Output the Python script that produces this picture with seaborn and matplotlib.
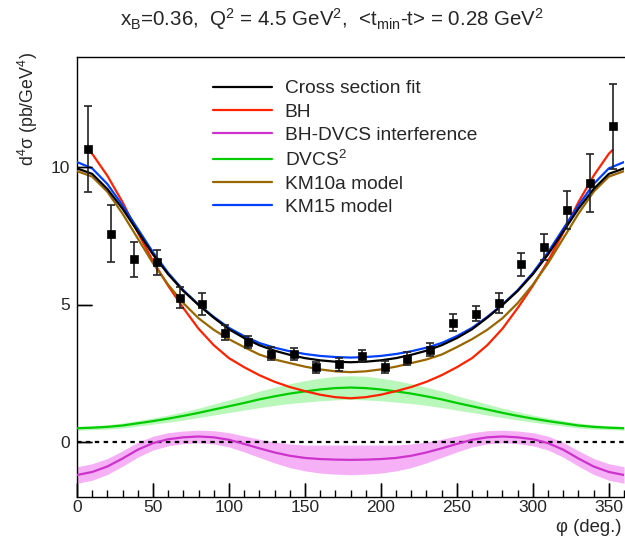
import numpy as np
import pandas as pd
import matplotlib
matplotlib.use("Agg")
import matplotlib.pyplot as plt
from matplotlib.ticker import MultipleLocator
import seaborn as sns

# ---------------- data ----------------
phi_pts = [7.5, 22.5, 37.5, 52.5, 67.5, 82.5, 97.5, 112.5, 127.5, 142.5, 157.5, 172.5,
           187.5, 202.5, 217.5, 232.5, 247.5, 262.5, 277.5, 292.5, 307.5, 322.5, 337.5, 352.5]
xs_pts = [10.65, 7.58, 6.64, 6.53, 5.25, 5.02, 3.98, 3.64, 3.21, 3.21, 2.71, 2.82,
          3.14, 2.74, 3.03, 3.36, 4.33, 4.66, 5.05, 6.46, 7.10, 8.44, 9.42, 11.48]
err_pts = [1.55, 1.05, 0.65, 0.47, 0.38, 0.40, 0.27, 0.22, 0.23, 0.22, 0.20, 0.22,
           0.22, 0.22, 0.23, 0.25, 0.31, 0.27, 0.36, 0.41, 0.47, 0.70, 1.07, 1.55]

phi_curve = list(range(0, 361, 10))
fit_curve = [9.95, 9.75, 9.20, 8.48, 7.65, 6.82, 6.10, 5.49, 4.98, 4.52, 4.10, 3.78, 3.52,
             3.32, 3.17, 3.05, 2.97, 2.92, 2.90,
             2.92, 2.97, 3.05, 3.17, 3.32, 3.52, 3.78, 4.10, 4.52, 4.98, 5.49, 6.10, 6.82,
             7.65, 8.48, 9.20, 9.75, 9.95]
km15_curve = [10.18, 9.95, 9.38, 8.60, 7.75, 6.90, 6.15, 5.52, 5.00, 4.55, 4.15, 3.85, 3.60,
              3.43, 3.30, 3.20, 3.13, 3.09, 3.07,
              3.09, 3.13, 3.20, 3.30, 3.43, 3.60, 3.85, 4.15, 4.55, 5.00, 5.52, 6.15, 6.90,
              7.75, 8.60, 9.38, 9.95, 10.18]
km10a_curve = [9.85, 9.65, 9.10, 8.30, 7.40, 6.50, 5.72, 5.05, 4.50, 4.08, 3.74, 3.45, 3.18,
               3.00, 2.87, 2.74, 2.64, 2.57, 2.54,
               2.57, 2.64, 2.74, 2.87, 3.00, 3.18, 3.45, 3.74, 4.08, 4.50, 5.05, 5.72, 6.50,
               7.40, 8.30, 9.10, 9.65, 9.85]
phi_bh = [7.5] + list(range(10, 351, 10)) + [352.5]
bh_curve = [10.62, 10.48, 9.68, 8.72, 7.62, 6.58, 5.68, 4.87, 4.12, 3.52, 3.05, 2.72, 2.43,
            2.19, 2.00, 1.85, 1.72, 1.63, 1.59,
            1.63, 1.72, 1.85, 2.00, 2.19, 2.43, 2.72, 3.05, 3.52, 4.12, 4.87, 5.68, 6.58,
            7.62, 8.72, 9.68, 10.48, 10.62]
int_curve = [-1.20, -1.09, -0.89, -0.60, -0.28, -0.04, 0.10, 0.17, 0.20, 0.17, 0.08, -0.07,
             -0.23, -0.38, -0.50, -0.58, -0.62, -0.64, -0.65,
             -0.64, -0.62, -0.58, -0.50, -0.38, -0.23, -0.07, 0.08, 0.17, 0.20, 0.17, 0.10,
             -0.04, -0.28, -0.60, -0.89, -1.09, -1.20]
int_err = [0.30, 0.30, 0.29, 0.28, 0.27, 0.25, 0.24, 0.23, 0.23, 0.24, 0.26, 0.29, 0.33,
           0.38, 0.43, 0.47, 0.51, 0.53, 0.54,
           0.53, 0.51, 0.47, 0.43, 0.38, 0.33, 0.29, 0.26, 0.24, 0.23, 0.23, 0.24, 0.25,
           0.27, 0.28, 0.29, 0.30, 0.30]
dvcs_curve = [0.50, 0.52, 0.55, 0.60, 0.68, 0.76, 0.85, 0.95, 1.06, 1.18, 1.30, 1.42, 1.55,
              1.66, 1.76, 1.84, 1.91, 1.96, 1.98,
              1.96, 1.91, 1.84, 1.76, 1.66, 1.55, 1.42, 1.30, 1.18, 1.06, 0.95, 0.85, 0.76,
              0.68, 0.60, 0.55, 0.52, 0.50]
dvcs_err = [0.07, 0.07, 0.08, 0.09, 0.10, 0.11, 0.13, 0.15, 0.17, 0.20, 0.23, 0.26, 0.30,
            0.33, 0.36, 0.39, 0.41, 0.43, 0.43,
            0.43, 0.41, 0.39, 0.36, 0.33, 0.30, 0.26, 0.23, 0.20, 0.17, 0.15, 0.13, 0.11,
            0.10, 0.09, 0.08, 0.07, 0.07]

labels = ["Cross section fit", "BH", "BH-DVCS interference", r"DVCS$^2$",
          "KM10a model", "KM15 model"]
colors = ["#000000", "#ff2200", "#cc33cc", "#00cc00", "#996600", "#0040ff"]

x_major = [0, 50, 100, 150, 200, 250, 300, 350]
x_minor = [v for v in range(0, 361, 10) if v % 50 != 0]
y_major = [0, 5, 10]

# ---------------- style ----------------
sns.set_style("ticks", {"xtick.direction": "in", "ytick.direction": "in"})
plt.rcParams["font.family"] = ["Liberation Sans", "DejaVu Sans"]
plt.rcParams["mathtext.default"] = "regular"

fig = plt.figure(figsize=(6.25, 5.36), dpi=100)
ax = fig.add_axes([77 / 625, 39 / 536, 547 / 625, 440 / 536])

df_c = pd.DataFrame({"phi": phi_curve, "fit": fit_curve, "km15": km15_curve,
                     "km10a": km10a_curve, "int": int_curve, "dvcs": dvcs_curve})
df_c["int_lo"] = df_c["int"] - np.array(int_err)
df_c["int_hi"] = df_c["int"] + np.array(int_err)
df_c["dvcs_lo"] = df_c["dvcs"] - np.array(dvcs_err)
df_c["dvcs_hi"] = df_c["dvcs"] + np.array(dvcs_err)
df_bh = pd.DataFrame({"phi": phi_bh, "bh": bh_curve})

# bands
ax.fill_between(df_c["phi"], df_c["dvcs_lo"], df_c["dvcs_hi"], color="#66ee66",
                alpha=0.45, lw=0, zorder=1)
ax.fill_between(df_c["phi"], df_c["int_lo"], df_c["int_hi"], color="#f070f0",
                alpha=0.55, lw=0, zorder=1)

ax.axhline(0, color="black", ls=(0, (2, 2)), lw=1.6, zorder=2)

lw = 1.6
sns.lineplot(data=df_c, x="phi", y="fit", color=colors[0], lw=lw, ax=ax, label=labels[0], zorder=5)
sns.lineplot(data=df_bh, x="phi", y="bh", color=colors[1], lw=lw, ax=ax, label=labels[1], zorder=4)
sns.lineplot(data=df_c, x="phi", y="int", color=colors[2], lw=lw, ax=ax, label=labels[2], zorder=3)
sns.lineplot(data=df_c, x="phi", y="dvcs", color=colors[3], lw=lw, ax=ax, label=labels[3], zorder=3)
sns.lineplot(data=df_c, x="phi", y="km10a", color=colors[4], lw=lw, ax=ax, label=labels[4], zorder=4)
sns.lineplot(data=df_c, x="phi", y="km15", color=colors[5], lw=lw, ax=ax, label=labels[5], zorder=4)

# data points
ax.errorbar(phi_pts, xs_pts, yerr=err_pts, fmt="none", ecolor="#222222", elinewidth=1.2,
            capsize=3, capthick=1.2, zorder=6)
sns.scatterplot(x=phi_pts, y=xs_pts, marker="s", s=36, color="black", edgecolor="black",
                ax=ax, zorder=7, legend=False)

ax.set_xlim(0, 360)
ax.set_ylim(-2, 14)
ax.set_xlabel("")
ax.set_ylabel("")
ax.set_xticks(x_major)
ax.set_yticks(y_major)
ax.tick_params(axis="x", which="major", bottom=True, direction="in", length=10, width=1,
               color="black", labelsize=12.5, pad=2)
ax.tick_params(axis="y", which="major", left=True, direction="in", length=10.5, width=1,
               color="black", labelsize=12.5, pad=5)

# inward tick marks, drawn in axes-fraction units along each spine
xt = ax.get_xaxis_transform()
yt = ax.get_yaxis_transform()
ax.vlines(x_major, 0, 14 / 440, transform=xt, colors="black", lw=1, zorder=10, clip_on=False)
ax.vlines(x_minor, 0, 7 / 440, transform=xt, colors="black", lw=1, zorder=10, clip_on=False)
ax.hlines(y_major, 0, 15 / 547, transform=yt, colors="black", lw=1, zorder=10, clip_on=False)

for s in ["left", "bottom", "top"]:
    ax.spines[s].set_color("black")
    ax.spines[s].set_linewidth(1.0)
ax.spines["right"].set_visible(False)

leg = ax.legend(loc="upper left", bbox_to_anchor=(213 / 625, 1 - 80 / 536),
                bbox_transform=fig.transFigure, frameon=False, fontsize=13.8,
                handlelength=3.1, handletextpad=0.65, labelspacing=0.3,
                borderpad=0, borderaxespad=0)

fig.text(332 / 625, 1 - 19 / 536,
         r"x$_{B}$=0.36,  Q$^{2}$ = 4.5 GeV$^{2}$,  <t$_{min}$-t> = 0.28 GeV$^{2}$",
         ha="center", va="center", fontsize=14.8)
fig.text(28 / 625, 1 - 52 / 536, r"d$^{4}$σ (pb/GeV$^{4}$)", rotation=90,
         ha="center", va="top", fontsize=12.8)
fig.text(622 / 625, 1 - 528 / 536, "φ (deg.)", ha="right", va="center", fontsize=13.3)

fig.savefig("out.png", dpi=100)
